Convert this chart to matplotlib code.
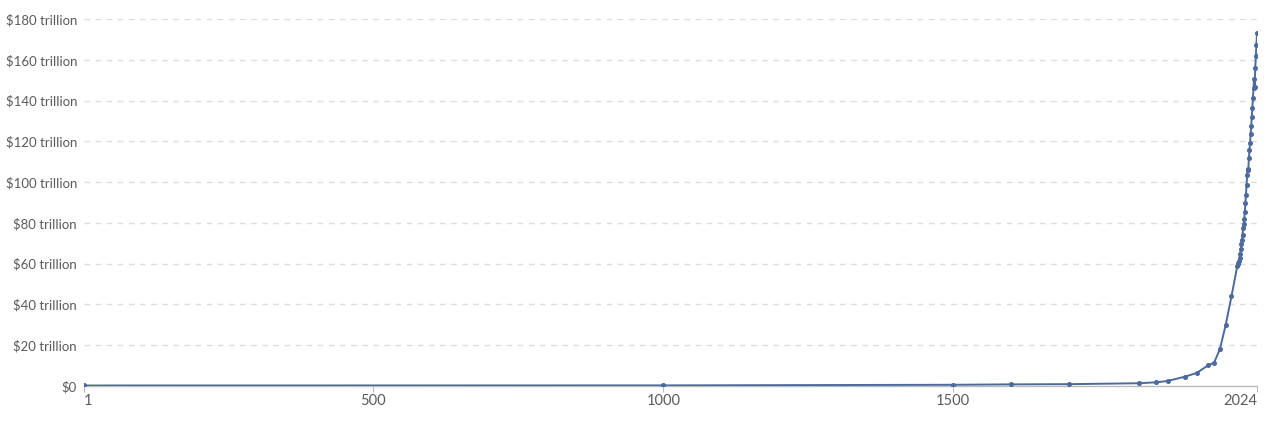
import numpy as np
import matplotlib.pyplot as plt

# world GDP, trillions of int-$
years = [1, 1000, 1500, 1600, 1700, 1820, 1850, 1870, 1900, 1920, 1940, 1950,
         1960, 1970, 1980,
         1990, 1991, 1992, 1993, 1994, 1995, 1996, 1997, 1998, 1999,
         2000, 2001, 2002, 2003, 2004, 2005, 2006, 2007, 2008, 2009,
         2010, 2011, 2012, 2013, 2014, 2015, 2016, 2017, 2018, 2019,
         2020, 2021, 2022, 2023, 2024]
gdp = [0.25, 0.3, 0.6, 0.8, 0.9, 1.35, 1.8, 2.45, 4.6, 6.4, 10.2, 11.4,
       18.1, 29.9, 44.0,
       58.9, 59.6, 60.5, 61.5, 63.0, 64.9, 67.0, 69.5, 71.4, 74.0,
       77.4, 79.5, 82.0, 85.3, 89.8, 93.9, 98.7, 103.7, 106.5, 106.1,
       111.7, 115.6, 119.4, 123.4, 127.4, 131.8, 136.4, 141.2, 146.3, 150.5,
       146.8, 156.0, 161.8, 167.2, 173.0]

xticks = [1, 500, 1000, 1500, 2024]
yticks = [0, 20, 40, 60, 80, 100, 120, 140, 160, 180]
ylabels = ['$0'] + ['${} trillion'.format(v) for v in yticks[1:]]

plt.rcParams['font.family'] = ['Lato', 'DejaVu Sans']

fig = plt.figure(figsize=(12.86, 4.24), dpi=100)
ax = fig.add_axes([84 / 1286, 1 - 386 / 424, (1257 - 84) / 1286, (386 - 19) / 424])

for v in yticks[1:]:
    ax.axhline(v, color='#dddddd', lw=1, ls=(0, (4, 4)), zorder=0)

ax.plot(years, gdp, color='#4c6a9c', lw=1.4, marker='o', ms=2.6, zorder=3)

ax.set_xlim(1, 2024)
ax.set_ylim(0, 180)
ax.set_xticks(xticks)
ax.set_xticklabels([str(t) for t in xticks])
ax.set_yticks(yticks)
ax.set_yticklabels(ylabels)

# end labels sit inside the axis, like the original
xl = ax.get_xticklabels()
xl[0].set_horizontalalignment('left')
xl[-1].set_horizontalalignment('right')

for side in ['top', 'right', 'left']:
    ax.spines[side].set_visible(False)
ax.spines['bottom'].set_color('#bbbbbb')
ax.spines['bottom'].set_linewidth(1)

ax.tick_params(axis='y', length=0, pad=5, labelsize=9.5, labelcolor='#5b5b5b')
ax.tick_params(axis='x', length=4, width=0.8, color='#bbbbbb', pad=2,
               labelsize=10.5, labelcolor='#5b5b5b')

fig.savefig('out.png', dpi=100)
